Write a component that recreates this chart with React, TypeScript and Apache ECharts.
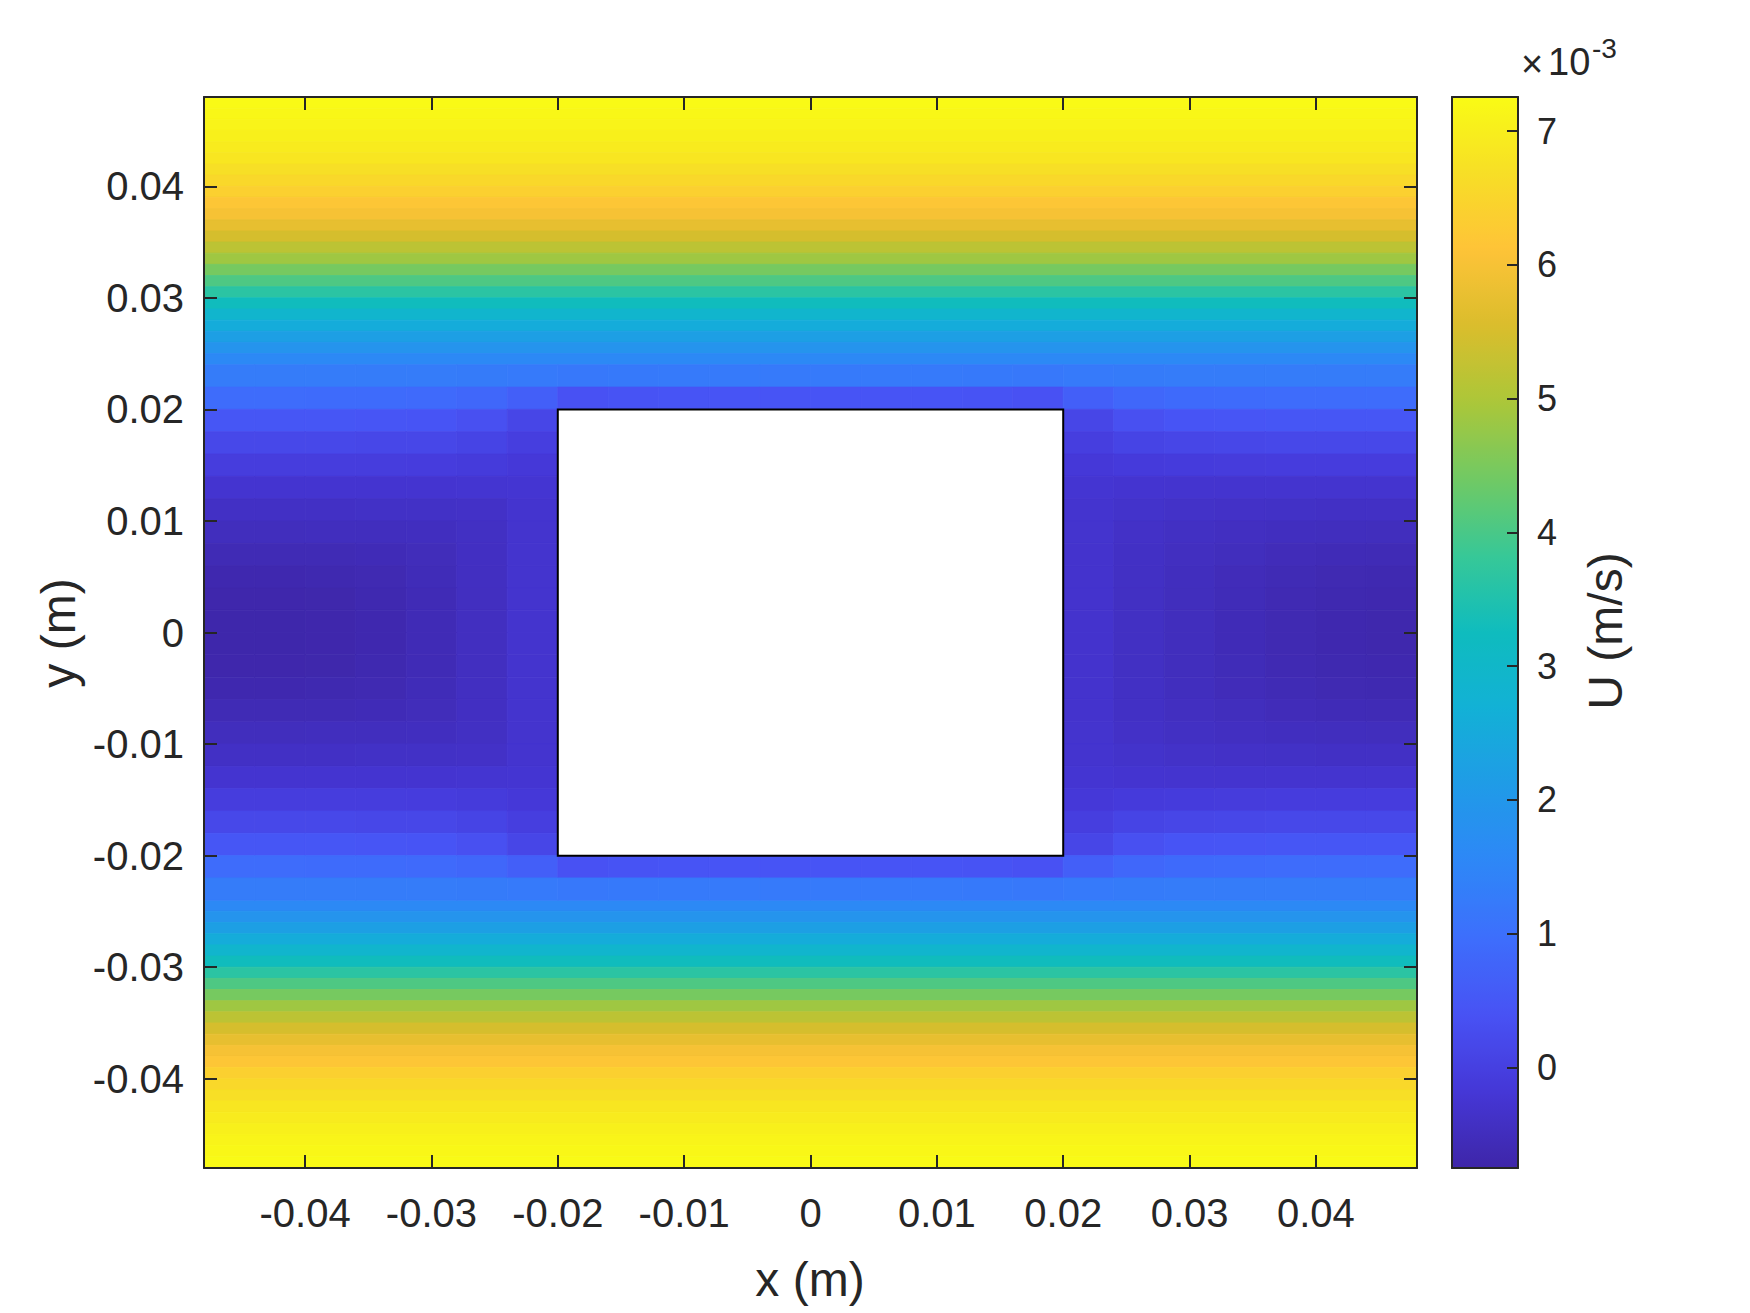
import React, { useEffect, useRef } from "react";
import * as echarts from "echarts";

// ---------- axis ticks ----------
const xTicks = [-0.04, -0.03, -0.02, -0.01, 0, 0.01, 0.02, 0.03, 0.04];
const yTicks = [-0.04, -0.03, -0.02, -0.01, 0, 0.01, 0.02, 0.03, 0.04];
const cbTicks = [0, 1, 2, 3, 4, 5, 6, 7];
const xRange = [-0.048, 0.048];
const yRange = [-0.048, 0.048];
const uRange = [-0.753, 7.256]; // ×10^-3 m/s

// ---------- obstacle (square) ----------
const obstacle = [-0.02, 0.02, -0.02, 0.02]; // x0, x1, y0, y1

// ---------- core field (|y| < 0.024), cells 0.004 x 0.002 ----------
const coreDX = 0.004;
const coreDY = 0.002;
const coreX = [
  -0.046, -0.042, -0.038, -0.034, -0.03, -0.026, -0.022, -0.018, -0.014, -0.01, -0.006, -0.002,
  0.002, 0.006, 0.01, 0.014, 0.018, 0.022, 0.026, 0.03, 0.034, 0.038, 0.042, 0.046,
];
const coreY = [
  0.023, 0.021, 0.019, 0.017, 0.015, 0.013, 0.011, 0.009, 0.007, 0.005, 0.003, 0.001,
  -0.001, -0.003, -0.005, -0.007, -0.009, -0.011, -0.013, -0.015, -0.017, -0.019, -0.021, -0.023,
];
const _ = null;
const coreU: (number | null)[][] = [
  [1.28, 1.28, 1.28, 1.28, 1.28, 1.27, 1.24, 1.20, 1.22, 1.23, 1.23, 1.23, 1.23, 1.23, 1.23, 1.22, 1.20, 1.24, 1.27, 1.28, 1.28, 1.28, 1.28, 1.28],
  [0.92, 0.92, 0.91, 0.90, 0.88, 0.82, 0.66, 0.38, 0.42, 0.44, 0.44, 0.44, 0.44, 0.44, 0.44, 0.42, 0.38, 0.66, 0.82, 0.89, 0.91, 0.92, 0.92, 0.92],
  [0.48, 0.48, 0.47, 0.46, 0.44, 0.34, 0.13, _, _, _, _, _, _, _, _, _, _, 0.13, 0.34, 0.43, 0.46, 0.47, 0.48, 0.48],
  [0.17, 0.17, 0.17, 0.16, 0.15, 0.09, -0.03, _, _, _, _, _, _, _, _, _, _, -0.03, 0.09, 0.14, 0.16, 0.17, 0.17, 0.17],
  [-0.06, -0.06, -0.06, -0.06, -0.07, -0.10, -0.16, _, _, _, _, _, _, _, _, _, _, -0.16, -0.11, -0.09, -0.08, -0.07, -0.07, -0.07],
  [-0.27, -0.27, -0.27, -0.27, -0.27, -0.26, -0.24, _, _, _, _, _, _, _, _, _, _, -0.24, -0.27, -0.28, -0.28, -0.28, -0.28, -0.28],
  [-0.40, -0.40, -0.40, -0.39, -0.39, -0.37, -0.28, _, _, _, _, _, _, _, _, _, _, -0.28, -0.33, -0.36, -0.38, -0.39, -0.40, -0.40],
  [-0.50, -0.50, -0.49, -0.48, -0.47, -0.42, -0.29, _, _, _, _, _, _, _, _, _, _, -0.29, -0.37, -0.42, -0.45, -0.47, -0.49, -0.50],
  [-0.60, -0.60, -0.59, -0.57, -0.53, -0.44, -0.29, _, _, _, _, _, _, _, _, _, _, -0.30, -0.40, -0.46, -0.50, -0.54, -0.57, -0.58],
  [-0.67, -0.67, -0.66, -0.63, -0.56, -0.45, -0.29, _, _, _, _, _, _, _, _, _, _, -0.30, -0.41, -0.48, -0.54, -0.59, -0.63, -0.64],
  [-0.71, -0.71, -0.70, -0.66, -0.58, -0.46, -0.29, _, _, _, _, _, _, _, _, _, _, -0.30, -0.42, -0.50, -0.56, -0.62, -0.66, -0.67],
  [-0.72, -0.72, -0.71, -0.67, -0.58, -0.46, -0.29, _, _, _, _, _, _, _, _, _, _, -0.30, -0.42, -0.50, -0.57, -0.63, -0.67, -0.69],
  [-0.72, -0.72, -0.71, -0.67, -0.58, -0.46, -0.29, _, _, _, _, _, _, _, _, _, _, -0.30, -0.42, -0.50, -0.57, -0.63, -0.67, -0.69],
  [-0.71, -0.71, -0.70, -0.66, -0.58, -0.46, -0.29, _, _, _, _, _, _, _, _, _, _, -0.30, -0.42, -0.50, -0.56, -0.62, -0.66, -0.67],
  [-0.67, -0.67, -0.66, -0.63, -0.56, -0.45, -0.29, _, _, _, _, _, _, _, _, _, _, -0.30, -0.41, -0.48, -0.54, -0.59, -0.63, -0.64],
  [-0.60, -0.60, -0.59, -0.57, -0.53, -0.44, -0.29, _, _, _, _, _, _, _, _, _, _, -0.30, -0.40, -0.46, -0.50, -0.54, -0.57, -0.58],
  [-0.50, -0.50, -0.49, -0.48, -0.47, -0.42, -0.29, _, _, _, _, _, _, _, _, _, _, -0.29, -0.37, -0.42, -0.45, -0.47, -0.49, -0.50],
  [-0.40, -0.40, -0.40, -0.39, -0.39, -0.37, -0.28, _, _, _, _, _, _, _, _, _, _, -0.28, -0.33, -0.36, -0.38, -0.39, -0.40, -0.40],
  [-0.27, -0.27, -0.27, -0.27, -0.27, -0.26, -0.24, _, _, _, _, _, _, _, _, _, _, -0.24, -0.27, -0.28, -0.28, -0.28, -0.28, -0.28],
  [-0.06, -0.06, -0.06, -0.06, -0.07, -0.10, -0.16, _, _, _, _, _, _, _, _, _, _, -0.16, -0.11, -0.09, -0.08, -0.07, -0.07, -0.07],
  [0.17, 0.17, 0.17, 0.16, 0.15, 0.09, -0.03, _, _, _, _, _, _, _, _, _, _, -0.03, 0.09, 0.14, 0.16, 0.17, 0.17, 0.17],
  [0.48, 0.48, 0.47, 0.46, 0.44, 0.34, 0.13, _, _, _, _, _, _, _, _, _, _, 0.13, 0.34, 0.43, 0.46, 0.47, 0.48, 0.48],
  [0.92, 0.92, 0.91, 0.90, 0.88, 0.82, 0.66, 0.38, 0.42, 0.44, 0.44, 0.44, 0.44, 0.44, 0.44, 0.42, 0.38, 0.66, 0.82, 0.89, 0.91, 0.92, 0.92, 0.92],
  [1.28, 1.28, 1.28, 1.28, 1.28, 1.27, 1.24, 1.20, 1.22, 1.23, 1.23, 1.23, 1.23, 1.23, 1.23, 1.22, 1.20, 1.24, 1.27, 1.28, 1.28, 1.28, 1.28, 1.28],
];

// ---------- outer bands (|y| >= 0.024), full-width strips 0.001 tall ----------
const bandDY = 0.001;
const bandY = [
  0.0475, 0.0465, 0.0455, 0.0445, 0.0435, 0.0425, 0.0415, 0.0405, 0.0395, 0.0385, 0.0375, 0.0365,
  0.0355, 0.0345, 0.0335, 0.0325, 0.0315, 0.0305, 0.0295, 0.0285, 0.0275, 0.0265, 0.0255, 0.0245,
  -0.0245, -0.0255, -0.0265, -0.0275, -0.0285, -0.0295, -0.0305, -0.0315, -0.0325, -0.0335, -0.0345, -0.0355,
  -0.0365, -0.0375, -0.0385, -0.0395, -0.0405, -0.0415, -0.0425, -0.0435, -0.0445, -0.0455, -0.0465, -0.0475,
];
const bandU = [
  7.23, 7.18, 7.12, 7.04, 6.95, 6.84, 6.70, 6.55, 6.38, 6.18, 5.98, 5.75,
  5.48, 5.18, 4.85, 4.45, 4.05, 3.65, 3.27, 2.90, 2.55, 2.22, 1.90, 1.60,
  1.60, 1.90, 2.22, 2.55, 2.90, 3.27, 3.65, 4.05, 4.45, 4.85, 5.18, 5.48,
  5.75, 5.98, 6.18, 6.38, 6.55, 6.70, 6.84, 6.95, 7.04, 7.12, 7.18, 7.23,
];

// parula-like colormap
const parula = [
  "#3e26a8", "#4537d7", "#4852f4", "#3d6efc", "#2e87f7", "#209be7", "#12b1d6", "#0fbcbe",
  "#37c897", "#70c964", "#abc739", "#dabd2c", "#fec338", "#f7de26", "#f9fb15",
];

const FONT = "'Liberation Sans', Arial, Helvetica, sans-serif";
const INK = "#262626";

function buildCells() {
  const cells: number[][] = [];
  for (let j = 0; j < bandY.length; j++) {
    cells.push([xRange[0], xRange[1], bandY[j] - bandDY / 2, bandY[j] + bandDY / 2, bandU[j]]);
  }
  for (let r = 0; r < coreY.length; r++) {
    for (let c = 0; c < coreX.length; c++) {
      const v = coreU[r][c];
      if (v === null) continue;
      cells.push([
        coreX[c] - coreDX / 2,
        coreX[c] + coreDX / 2,
        coreY[r] - coreDY / 2,
        coreY[r] + coreDY / 2,
        v,
      ]);
    }
  }
  return cells;
}

const fmt = (v: number) => (Math.abs(v) < 1e-12 ? "0" : v.toFixed(2));

export default function App() {
  const ref = useRef<HTMLDivElement>(null);
  useEffect(() => {
    if (!ref.current) return;
    const chart = echarts.init(ref.current, null, { renderer: "svg" });
    const line = { color: INK, width: 2 };
    const mainX = (pos: string, labels: boolean) => ({
      gridIndex: 0,
      type: "value",
      min: xRange[0],
      max: xRange[1],
      position: pos,
      z: 10,
      axisLine: { show: true, onZero: false, lineStyle: line },
      axisTick: { show: true, inside: true, length: 13, lineStyle: line, customValues: xTicks },
      axisLabel: {
        show: labels,
        customValues: xTicks,
        formatter: fmt,
        fontSize: 40,
        fontFamily: FONT,
        color: INK,
        margin: 25,
      },
      splitLine: { show: false },
    });
    const mainY = (pos: string, labels: boolean) => ({
      gridIndex: 0,
      type: "value",
      min: yRange[0],
      max: yRange[1],
      position: pos,
      z: 10,
      axisLine: { show: true, onZero: false, lineStyle: line },
      axisTick: { show: true, inside: true, length: 13, lineStyle: line, customValues: yTicks },
      axisLabel: {
        show: labels,
        customValues: yTicks,
        formatter: fmt,
        fontSize: 40,
        fontFamily: FONT,
        color: INK,
        margin: 20,
      },
      splitLine: { show: false },
    });
    const cbX = (pos: string) => ({
      gridIndex: 1,
      type: "value",
      min: 0,
      max: 1,
      position: pos,
      z: 10,
      axisLine: { show: true, onZero: false, lineStyle: line },
      axisTick: { show: false },
      axisLabel: { show: false },
      splitLine: { show: false },
    });

    const option: any = {
      animation: false,
      backgroundColor: "#ffffff",
      grid: [
        { left: 204, top: 97, width: 1213, height: 1071 },
        { left: 1452, top: 97, width: 66, height: 1071 },
      ],
      xAxis: [mainX("bottom", true), mainX("top", false), cbX("bottom"), cbX("top")],
      yAxis: [
        mainY("left", true),
        mainY("right", false),
        {
          gridIndex: 1,
          type: "value",
          min: uRange[0],
          max: uRange[1],
          position: "right",
          z: 10,
          axisLine: { show: true, onZero: false, lineStyle: line },
          axisTick: { show: true, inside: true, length: 11, lineStyle: line, customValues: cbTicks },
          axisLabel: {
            customValues: cbTicks,
            formatter: (v: number) => String(Math.round(v)),
            fontSize: 36,
            fontFamily: FONT,
            color: INK,
            margin: 19,
          },
          splitLine: { show: false },
        },
        {
          gridIndex: 1,
          type: "value",
          min: uRange[0],
          max: uRange[1],
          position: "left",
          z: 10,
          axisLine: { show: true, onZero: false, lineStyle: line },
          axisTick: { show: false },
          axisLabel: { show: false },
          splitLine: { show: false },
        },
      ],
      visualMap: {
        type: "continuous",
        min: uRange[0],
        max: uRange[1],
        dimension: 4,
        seriesIndex: 0,
        show: true,
        calculable: false,
        hoverLink: false,
        orient: "vertical",
        left: 1452,
        top: 97,
        padding: 0,
        itemWidth: 66,
        itemHeight: 1071,
        inRange: { color: parula },
      },
      series: [
        {
          type: "custom",
          xAxisIndex: 0,
          yAxisIndex: 0,
          silent: true,
          clip: true,
          z: 2,
          encode: { x: [0, 1], y: [2, 3] },
          data: buildCells(),
          renderItem: (params: any, api: any) => {
            const p0 = api.coord([api.value(0), api.value(3)]);
            const p1 = api.coord([api.value(1), api.value(2)]);
            const col = api.visual("color");
            return {
              type: "rect",
              shape: { x: p0[0], y: p0[1], width: p1[0] - p0[0], height: p1[1] - p0[1] },
              style: { fill: col, stroke: col, lineWidth: 0.8 },
            };
          },
        },
        {
          type: "custom",
          xAxisIndex: 0,
          yAxisIndex: 0,
          silent: true,
          z: 3,
          encode: { x: [0, 1], y: [2, 3] },
          data: [obstacle],
          renderItem: (params: any, api: any) => {
            const p0 = api.coord([api.value(0), api.value(3)]);
            const p1 = api.coord([api.value(1), api.value(2)]);
            return {
              type: "rect",
              shape: { x: p0[0], y: p0[1], width: p1[0] - p0[0], height: p1[1] - p0[1] },
              style: { fill: "#ffffff", stroke: "#000000", lineWidth: 2 },
            };
          },
        },
      ],
      graphic: [
        {
          type: "text",
          x: 810,
          y: 1279,
          style: { text: "x (m)", fontSize: 48, fontFamily: FONT, fill: INK, align: "center", verticalAlign: "middle" },
        },
        {
          type: "text",
          x: 58,
          y: 633,
          rotation: Math.PI / 2,
          style: { text: "y (m)", fontSize: 48, fontFamily: FONT, fill: INK, align: "center", verticalAlign: "middle" },
        },
        {
          type: "text",
          x: 1605,
          y: 631,
          rotation: Math.PI / 2,
          style: { text: "U (m/s)", fontSize: 48, fontFamily: FONT, fill: INK, align: "center", verticalAlign: "middle" },
        },
        {
          type: "text",
          x: 1521,
          y: 64,
          style: { text: "×", fontSize: 38, fontFamily: FONT, fill: INK, align: "left", verticalAlign: "middle" },
        },
        {
          type: "text",
          x: 1548,
          y: 62,
          style: { text: "10", fontSize: 38, fontFamily: FONT, fill: INK, align: "left", verticalAlign: "middle" },
        },
        {
          type: "text",
          x: 1592,
          y: 48,
          style: { text: "-3", fontSize: 28, fontFamily: FONT, fill: INK, align: "left", verticalAlign: "middle" },
        },
      ],
    };
    chart.setOption(option);
    return () => chart.dispose();
  }, []);
  return (
    <div
      ref={ref}
      style={{ position: "fixed", left: 0, top: 0, width: 1750, height: 1313, background: "#ffffff" }}
    />
  );
}
